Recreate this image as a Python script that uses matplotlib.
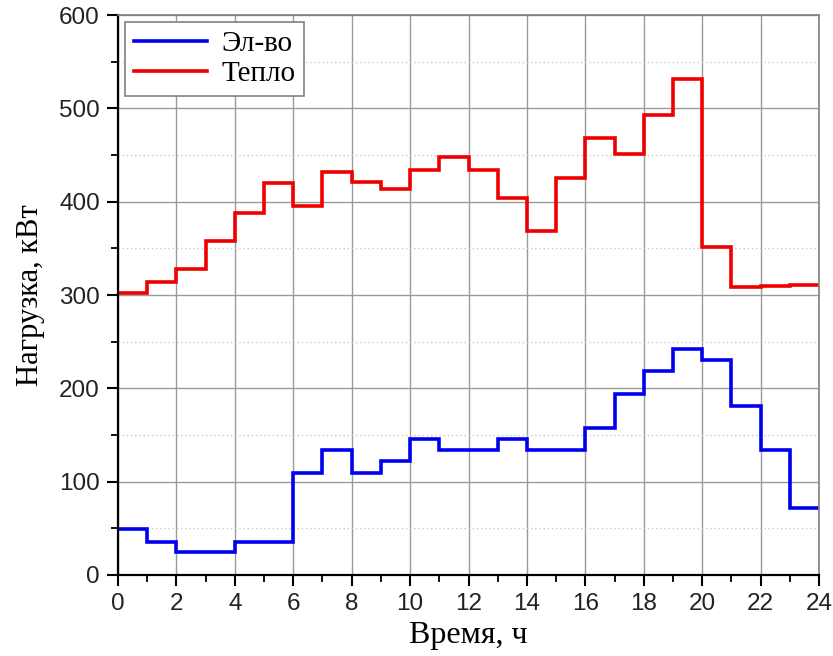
import numpy as np
import matplotlib
matplotlib.use("Agg")
import matplotlib.pyplot as plt
from matplotlib.ticker import MultipleLocator

# hourly load profile, kW
hours = np.arange(0, 25)
el_load = [49, 35, 25, 25, 35, 35, 109, 134, 109, 122, 146, 134,
           134, 146, 134, 134, 157, 194, 219, 242, 230, 181, 134, 72]
heat_load = [302, 314, 328, 358, 388, 420, 395, 432, 421, 414, 434, 448,
             434, 404, 369, 425, 468, 451, 493, 531, 351, 309, 310, 311]

fig = plt.figure(figsize=(8.33, 6.56), dpi=100)
ax = fig.add_axes([0.1417, 0.1235, 0.8415, 0.8536])

ax.stairs(el_load, hours, baseline=None, color="#0000ee", lw=2.6, label="Эл-во")
ax.stairs(heat_load, hours, baseline=None, color="#ee0000", lw=2.6, label="Тепло")

ax.set_xlim(0, 24)
ax.set_ylim(0, 600)
ax.xaxis.set_major_locator(MultipleLocator(2))
ax.xaxis.set_minor_locator(MultipleLocator(1))
ax.yaxis.set_major_locator(MultipleLocator(100))
ax.yaxis.set_minor_locator(MultipleLocator(50))

ax.grid(which="major", color="#9a9a9a", lw=1.0)
ax.grid(which="minor", axis="y", color="#c8c8c8", lw=1.0, ls=(0, (1, 2)))
ax.set_axisbelow(True)

for side in ["left", "bottom"]:
    ax.spines[side].set_linewidth(1.6)
for side in ["top", "right"]:
    ax.spines[side].set_color("#808080")
    ax.spines[side].set_linewidth(1.2)

ax.tick_params(which="major", direction="out", length=8, width=1.5,
               labelsize=17.5, labelcolor="#222222", pad=5)
ax.tick_params(which="minor", direction="out", length=5, width=1.3)
for lab in ax.get_xticklabels() + ax.get_yticklabels():
    lab.set_family("Liberation Sans")

ax.set_xlabel("Время, ч", family="Liberation Serif", fontsize=23, labelpad=4)
ax.set_ylabel("Нагрузка, кВт", family="Liberation Serif", fontsize=22, labelpad=10)

leg = ax.legend(loc="upper left", prop={"family": "Liberation Serif", "size": 21},
                fancybox=False, framealpha=1, edgecolor="#808080",
                handlelength=2.5, handletextpad=0.5, borderaxespad=0.25,
                labelspacing=0.1, borderpad=0.3)
leg.get_frame().set_linewidth(1.2)

fig.savefig("out.png", dpi=100)
